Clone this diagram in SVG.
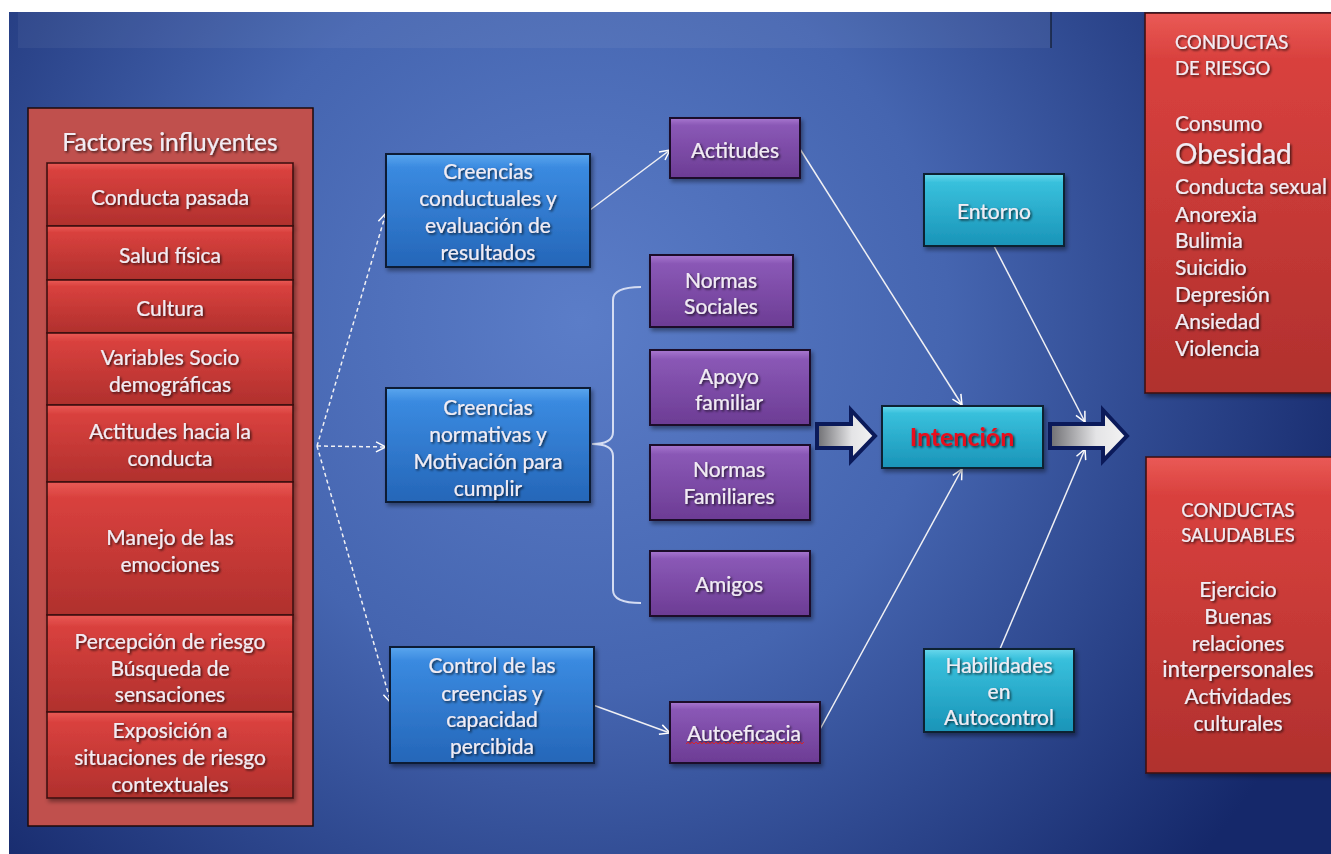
<svg xmlns="http://www.w3.org/2000/svg" width="1331" height="854" viewBox="0 0 1331 854">
<defs>
<radialGradient id="bg" cx="580" cy="320" r="820" gradientUnits="userSpaceOnUse">
<stop offset="0" stop-color="#5b7dc8"/>
<stop offset="0.45" stop-color="#4565b0"/>
<stop offset="1" stop-color="#15286a"/>
</radialGradient>
<linearGradient id="gRed" x1="0" y1="0" x2="0" y2="1">
<stop offset="0" stop-color="#ea5a56"/>
<stop offset="0.12" stop-color="#d9413e"/>
<stop offset="1" stop-color="#b0302d"/>
</linearGradient>
<linearGradient id="gBlue" x1="0" y1="0" x2="0" y2="1">
<stop offset="0" stop-color="#5aa6ee"/>
<stop offset="0.12" stop-color="#3a8ae0"/>
<stop offset="1" stop-color="#2566b8"/>
</linearGradient>
<linearGradient id="gPur" x1="0" y1="0" x2="0" y2="1">
<stop offset="0" stop-color="#a878d0"/>
<stop offset="0.12" stop-color="#8a58b6"/>
<stop offset="1" stop-color="#6c3c94"/>
</linearGradient>
<linearGradient id="gCyan" x1="0" y1="0" x2="0" y2="1">
<stop offset="0" stop-color="#6ad8ec"/>
<stop offset="0.12" stop-color="#38c0dc"/>
<stop offset="1" stop-color="#1a94b8"/>
</linearGradient>
<linearGradient id="gArrow" x1="0" y1="0" x2="1" y2="0">
<stop offset="0" stop-color="#6e6e72"/>
<stop offset="0.6" stop-color="#e4e4e6"/>
<stop offset="1" stop-color="#f4f4f4"/>
</linearGradient>
<filter id="ts" x="-10%" y="-30%" width="130%" height="160%">
<feDropShadow dx="1.5" dy="1.5" stdDeviation="1" flood-color="#000" flood-opacity="0.7"/>
</filter>
<filter id="bs" x="-5%" y="-5%" width="115%" height="120%">
<feDropShadow dx="2" dy="3" stdDeviation="2" flood-color="#000" flood-opacity="0.4"/>
</filter>
<marker id="ah" viewBox="0 0 12 12" refX="11" refY="6" markerWidth="12" markerHeight="12" markerUnits="userSpaceOnUse" orient="auto">
<path d="M1,1 L11,6 L1,11" fill="none" stroke="#ffffff" stroke-width="1.5"/>
</marker>
<style>
.t{font-family:Lato,"Liberation Sans",sans-serif;font-size:21px;fill:#f1ecf3;stroke:#f1ecf3;stroke-width:0.15;text-anchor:middle;dominant-baseline:central;filter:url(#ts)}
.tl{font-family:Lato,"Liberation Sans",sans-serif;font-size:21px;fill:#f1ecf3;stroke:#f1ecf3;stroke-width:0.15;text-anchor:start;dominant-baseline:central;filter:url(#ts)}
.red{fill:url(#gRed);stroke:#3a0c0c;stroke-width:1.5;filter:url(#bs)}
.blue{fill:url(#gBlue);stroke:#0e1a36;stroke-width:2;filter:url(#bs)}
.pur{fill:url(#gPur);stroke:#1a0e2a;stroke-width:2;filter:url(#bs)}
.cyan{fill:url(#gCyan);stroke:#0c2030;stroke-width:2;filter:url(#bs)}
.solid{stroke:#f0f0f4;stroke-width:1.5;fill:none;marker-end:url(#ah)}
.dash{stroke:#f0f0f4;stroke-width:1.5;fill:none;stroke-dasharray:4 3;marker-end:url(#ah)}
.barrow{fill:url(#gArrow);stroke:#0b1a5a;stroke-width:4;stroke-linejoin:miter}
</style>
</defs>

<rect x="0" y="0" width="1331" height="854" fill="#ffffff"/>
<rect x="9" y="12" width="1322" height="842" fill="url(#bg)"/>
<rect x="18" y="12" width="1033" height="36" fill="#ffffff" fill-opacity="0.05"/>
<line x1="1051" y1="12" x2="1051" y2="48" stroke="#101828" stroke-width="1.2"/>

<g id="factores">
<rect x="28" y="108" width="285" height="718" fill="#c0504d" stroke="#1e0a0a" stroke-width="1.5"/>
<text class="t" x="170" y="141" style="font-size:24.5px">Factores influyentes</text>
</g>
<g id="conducta-pasada">
<rect class="red" x="47" y="163" width="246" height="63"/>
<text class="t" x="170" y="196">Conducta pasada</text>
</g>
<g id="salud-fisica">
<rect class="red" x="47" y="226" width="246" height="54"/>
<text class="t" x="170" y="254">Salud física</text>
</g>
<g id="cultura">
<rect class="red" x="47" y="280" width="246" height="53"/>
<text class="t" x="170" y="307">Cultura</text>
</g>
<g id="variables">
<rect class="red" x="47" y="333" width="246" height="72"/>
<text class="t" x="170" y="356">Variables Socio</text>
<text class="t" x="170" y="383">demográficas</text>
</g>
<g id="actitudes-hacia">
<rect class="red" x="47" y="405" width="246" height="77"/>
<text class="t" x="170" y="430">Actitudes hacia la</text>
<text class="t" x="170" y="457">conducta</text>
</g>
<g id="manejo">
<rect class="red" x="47" y="482" width="246" height="133"/>
<text class="t" x="170" y="536">Manejo de las</text>
<text class="t" x="170" y="563">emociones</text>
</g>
<g id="percepcion">
<rect class="red" x="47" y="615" width="246" height="97"/>
<text class="t" x="170" y="640">Percepción de riesgo</text>
<text class="t" x="170" y="667">Búsqueda de</text>
<text class="t" x="170" y="693">sensaciones</text>
</g>
<g id="exposicion">
<rect class="red" x="47" y="712" width="246" height="86"/>
<text class="t" x="170" y="729">Exposición a</text>
<text class="t" x="170" y="756">situaciones de riesgo</text>
<text class="t" x="170" y="783">contextuales</text>
</g>

<g id="connectors">
<path class="dash" d="M317,446 L386,213"/>
<path class="dash" d="M317,446 L386,447"/>
<path class="dash" d="M317,446 L391,703"/>
<path class="solid" d="M590,210 L670,150"/>
<path class="solid" d="M800,149 L962,405"/>
<path class="solid" d="M593,705 L670,733"/>
<path class="solid" d="M818,733 L962,469"/>
<path class="solid" d="M994,246 L1085,422"/>
<path class="solid" d="M1000,649 L1085,449"/>
<path d="M641,287 Q613,287 613,300 L613,432 Q613,444 592,444 Q613,444 613,456 L613,590 Q613,603 641,603" fill="none" stroke="#d4dcf2" stroke-width="2"/>
<polygon class="barrow" points="817,424 851,424 851,410 875,436 851,461 851,448 817,448"/>
<polygon class="barrow" points="1050,424 1103,424 1103,410 1127,436 1103,461 1103,448 1050,448"/>
</g>

<g id="creencias-conductuales">
<rect class="blue" x="386" y="154" width="204" height="113"/>
<text class="t" x="488" y="170">Creencias</text>
<text class="t" x="488" y="197">conductuales y</text>
<text class="t" x="488" y="224">evaluación de</text>
<text class="t" x="488" y="251">resultados</text>
</g>
<g id="creencias-normativas">
<rect class="blue" x="386" y="388" width="204" height="114"/>
<text class="t" x="488" y="406">Creencias</text>
<text class="t" x="488" y="433">normativas y</text>
<text class="t" x="488" y="460">Motivación para</text>
<text class="t" x="488" y="487">cumplir</text>
</g>
<g id="control">
<rect class="blue" x="390" y="647" width="204" height="116"/>
<text class="t" x="492" y="664">Control de las</text>
<text class="t" x="492" y="692">creencias y</text>
<text class="t" x="492" y="718">capacidad</text>
<text class="t" x="492" y="745">percibida</text>
</g>

<g id="actitudes">
<rect class="pur" x="670" y="118" width="130" height="60"/>
<text class="t" x="735" y="149">Actitudes</text>
</g>
<g id="normas-sociales">
<rect class="pur" x="650" y="255" width="143" height="72"/>
<text class="t" x="721" y="279">Normas</text>
<text class="t" x="721" y="305">Sociales</text>
</g>
<g id="apoyo-familiar">
<rect class="pur" x="650" y="350" width="160" height="75"/>
<text class="t" x="729" y="375">Apoyo</text>
<text class="t" x="729" y="401">familiar</text>
</g>
<g id="normas-familiares">
<rect class="pur" x="650" y="445" width="160" height="75"/>
<text class="t" x="729" y="468">Normas</text>
<text class="t" x="729" y="495">Familiares</text>
</g>
<g id="amigos">
<rect class="pur" x="650" y="551" width="160" height="65"/>
<text class="t" x="729" y="583">Amigos</text>
</g>
<g id="autoeficacia">
<rect class="pur" x="670" y="702" width="150" height="61"/>
<text class="t" x="744" y="732">Autoeficacia</text>
<path d="M686,744 l2,-2 l2,2 l2,-2 l2,2 l2,-2 l2,2 l2,-2 l2,2 l2,-2 l2,2 l2,-2 l2,2 l2,-2 l2,2 l2,-2 l2,2 l2,-2 l2,2 l2,-2 l2,2 l2,-2 l2,2 l2,-2 l2,2 l2,-2 l2,2 l2,-2 l2,2 l2,-2 l2,2 l2,-2 l2,2 l2,-2 l2,2 l2,-2 l2,2 l2,-2 l2,2 l2,-2 l2,2 l2,-2 l2,2 l2,-2 l2,2 l2,-2 l2,2 l2,-2 l2,2 l2,-2 l2,2 l2,-2 l2,2 l2,-2 l2,2 l2,-2 l2,2 l2,-2 l2,2 l2,-2" fill="none" stroke="#e02020" stroke-width="0.9"/>
</g>

<g id="entorno">
<rect class="cyan" x="924" y="174" width="140" height="72"/>
<text class="t" x="994" y="210">Entorno</text>
</g>
<g id="intencion">
<rect class="cyan" x="882" y="406" width="161" height="62"/>
<text x="962" y="436" font-size="25" font-weight="bold" style="font-family:Lato,'Liberation Sans',sans-serif;fill:#e8101e;text-anchor:middle;dominant-baseline:central;filter:url(#ts)">Intención</text>
</g>
<g id="habilidades">
<rect class="cyan" x="924" y="649" width="150" height="83"/>
<text class="t" x="999" y="664">Habilidades</text>
<text class="t" x="999" y="690">en</text>
<text class="t" x="999" y="716">Autocontrol</text>
</g>

<g id="conductas-riesgo">
<rect class="red" x="1145" y="13" width="200" height="380"/>
<text class="tl" x="1175" y="42" style="font-size:18.5px">CONDUCTAS</text>
<text class="tl" x="1175" y="68" style="font-size:18.5px">DE RIESGO</text>
<text class="tl" x="1175" y="122">Consumo</text>
<text class="tl" x="1175" y="153" style="font-size:28px">Obesidad</text>
<text class="tl" x="1175" y="185">Conducta sexual</text>
<text class="tl" x="1175" y="213">Anorexia</text>
<text class="tl" x="1175" y="239">Bulimia</text>
<text class="tl" x="1175" y="266">Suicidio</text>
<text class="tl" x="1175" y="293">Depresión</text>
<text class="tl" x="1175" y="320">Ansiedad</text>
<text class="tl" x="1175" y="347">Violencia</text>
</g>
<g id="conductas-saludables">
<rect class="red" x="1146" y="457" width="200" height="316"/>
<text class="t" x="1238" y="510" style="font-size:18.5px">CONDUCTAS</text>
<text class="t" x="1238" y="535" style="font-size:18.5px">SALUDABLES</text>
<text class="t" x="1238" y="588">Ejercicio</text>
<text class="t" x="1238" y="615">Buenas</text>
<text class="t" x="1238" y="642">relaciones</text>
<text class="t" x="1238" y="668" style="font-size:22.5px">interpersonales</text>
<text class="t" x="1238" y="695">Actividades</text>
<text class="t" x="1238" y="722">culturales</text>
</g>
</svg>
